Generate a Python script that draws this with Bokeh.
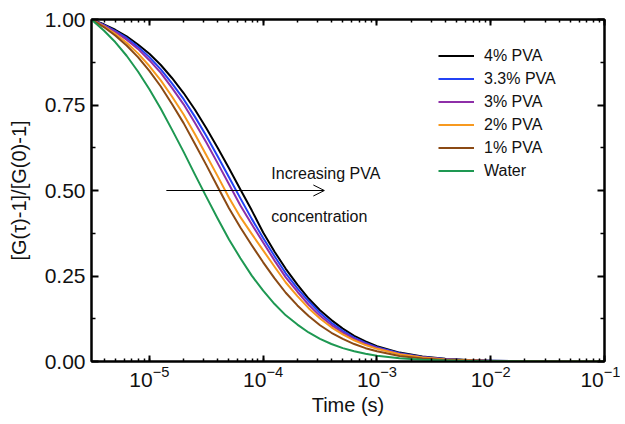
from bokeh.plotting import figure
from bokeh.models import (LogAxis, LinearAxis, FixedTicker, LogTicker, Legend, LegendItem,
                          Arrow, OpenHead, Label, PrintfTickFormatter, Range1d)
from bokeh.embed import file_html
from bokeh.resources import INLINE

# ---- data ----
time_s = [3.1e-6, 3.98e-6, 5.01e-6, 6.31e-6, 7.94e-6, 1.0e-5, 1.26e-5, 1.58e-5, 2.0e-5,
          2.51e-5, 3.16e-5, 3.98e-5, 5.01e-5, 6.31e-5, 7.94e-5, 1.0e-4, 1.26e-4, 1.58e-4,
          2.0e-4, 2.51e-4, 3.16e-4, 3.98e-4, 5.01e-4, 6.31e-4, 7.94e-4, 1.0e-3, 1.58e-3,
          2.51e-3, 3.98e-3, 6.31e-3, 1.0e-2, 3.16e-2, 1.0e-1]

pva_4 = [1.0, 0.986, 0.970, 0.951, 0.927, 0.900, 0.867, 0.829, 0.785, 0.737, 0.683, 0.625,
         0.565, 0.503, 0.442, 0.377, 0.321, 0.271, 0.225, 0.184, 0.150, 0.121, 0.096, 0.075,
         0.059, 0.045, 0.026, 0.015, 0.008, 0.0043, 0.0022, 0.0004, 0.0]
pva_33 = [1.0, 0.984, 0.967, 0.946, 0.920, 0.890, 0.854, 0.813, 0.767, 0.716, 0.660, 0.600,
          0.539, 0.477, 0.417, 0.361, 0.308, 0.258, 0.214, 0.176, 0.142, 0.113, 0.0895, 0.070,
          0.0545, 0.042, 0.024, 0.0133, 0.0071, 0.0039, 0.0020, 0.0003, 0.0]
pva_3 = [1.0, 0.983, 0.964, 0.941, 0.914, 0.881, 0.844, 0.800, 0.752, 0.698, 0.641, 0.580,
         0.518, 0.456, 0.401, 0.348, 0.295, 0.246, 0.204, 0.166, 0.1335, 0.1065, 0.0843, 0.066,
         0.0512, 0.0394, 0.0223, 0.0124, 0.0066, 0.0035, 0.0018, 0.0003, 0.0]
pva_2 = [1.0, 0.980, 0.958, 0.932, 0.901, 0.864, 0.822, 0.775, 0.722, 0.665, 0.604, 0.542,
         0.479, 0.422, 0.373, 0.325, 0.277, 0.231, 0.191, 0.156, 0.1255, 0.100, 0.0792, 0.062,
         0.0481, 0.037, 0.021, 0.0117, 0.0062, 0.0033, 0.0017, 0.0003, 0.0]
pva_1 = [1.0, 0.978, 0.953, 0.924, 0.890, 0.850, 0.804, 0.753, 0.697, 0.637, 0.575, 0.511,
         0.448, 0.392, 0.340, 0.290, 0.243, 0.201, 0.164, 0.133, 0.106, 0.084, 0.066, 0.051,
         0.039, 0.030, 0.016, 0.0085, 0.0045, 0.0024, 0.0012, 0.0002, 0.0]
water = [1.0, 0.968, 0.934, 0.894, 0.848, 0.796, 0.739, 0.678, 0.613, 0.547, 0.482, 0.418,
         0.357, 0.302, 0.251, 0.207, 0.168, 0.135, 0.108, 0.0849, 0.0662, 0.0512, 0.0392,
         0.0298, 0.0224, 0.0167, 0.0095, 0.0052, 0.0028, 0.0014, 0.0007, 0.0001, 0.0]

series_names = ["4% PVA", "3.3% PVA", "3% PVA", "2% PVA", "1% PVA", "Water"]
series_values = [pva_4, pva_33, pva_3, pva_2, pva_1, water]
series_colors = ["#000000", "#2342f5", "#8e2fa8", "#f7991f", "#8b4a14", "#1e9852"]

y_ticks = [0.0, 0.25, 0.5, 0.75, 1.0]
y_minor = [0.125, 0.375, 0.625, 0.875]

arrow_x = [1.41e-5, 3.45e-4]
arrow_y = 0.5
note_x = 1.18e-4
note_lines = ["Increasing PVA", "concentration"]
note_y = [0.55, 0.425]

FONT = "Liberation Sans"

p = figure(width=620, height=423, x_axis_type="log",
           x_range=Range1d(3.1e-6, 0.1), y_range=Range1d(0, 1),
           output_backend="svg", toolbar_location=None,
           min_border_left=91, min_border_right=16, min_border_top=19, min_border_bottom=62)
p.grid.visible = False
p.outline_line_color = "black"
p.outline_line_width = 2
p.background_fill_color = "white"

renderers = []
for name, vals, col in zip(series_names, series_values, series_colors):
    r = p.line(time_s, vals, line_color=col, line_width=2, line_join="round")
    renderers.append((name, r))

# bottom axis
xa = p.xaxis[0]
xa.ticker = LogTicker(num_minor_ticks=10)
xa.axis_label = "Time (s)"
# right/top axes (ticks only)
top = LogAxis(ticker=LogTicker(num_minor_ticks=10))
right = LinearAxis(ticker=FixedTicker(ticks=y_ticks, minor_ticks=y_minor))
p.add_layout(top, "above")
p.add_layout(right, "right")

ya = p.yaxis[0]
ya.ticker = FixedTicker(ticks=y_ticks, minor_ticks=y_minor)
ya.formatter = PrintfTickFormatter(format="%.2f")
ya.axis_label = "[G(τ)-1]/[G(0)-1]"

for ax in [xa, top]:
    ax.major_tick_in = 6
    ax.major_tick_out = 0
    ax.minor_tick_in = 3
    ax.minor_tick_out = 0
for ax in [ya, right]:
    ax.major_tick_in = 7
    ax.major_tick_out = 0
    ax.minor_tick_in = 4
    ax.minor_tick_out = 0
for ax in [xa, top, ya, right]:
    ax.axis_line_width = 2
    ax.axis_line_color = "black"
    ax.major_tick_line_width = 2
    ax.minor_tick_line_width = 1.5
    ax.major_tick_line_color = "black"
    ax.minor_tick_line_color = "black"
    ax.major_label_text_font = FONT
    ax.axis_label_text_font = FONT
    ax.axis_label_text_font_style = "normal"
    ax.axis_label_text_font_size = "20px"
    ax.major_label_text_color = "#111111"
    ax.axis_label_text_color = "#111111"
for ax in [top, right]:
    ax.major_label_text_font_size = "2px"
    ax.major_label_text_alpha = 0
    ax.major_label_standoff = 0
xa.major_label_text_font_size = "21px"
ya.major_label_text_font_size = "21px"
xa.major_label_standoff = 4
ya.major_label_standoff = 6
xa.axis_label_standoff = 4
ya.axis_label_standoff = 12

legend = Legend(items=[LegendItem(label=n, renderers=[r]) for n, r in renderers],
                location=(347, 179), border_line_color=None, background_fill_alpha=0,
                glyph_width=36, glyph_height=23, label_height=23, spacing=0, padding=0,
                margin=0, label_standoff=10, label_text_font_size="16px",
                label_text_font=FONT, label_text_color="#111111")
p.add_layout(legend, "center")

p.add_layout(Arrow(end=OpenHead(size=11, line_width=1, line_color="black"),
                   x_start=arrow_x[0], y_start=arrow_y, x_end=arrow_x[1], y_end=arrow_y,
                   line_width=1, line_color="black"))
for txt, yy in zip(note_lines, note_y):
    p.add_layout(Label(x=note_x, y=yy, text=txt, text_font=FONT, text_font_size="16px",
                       text_baseline="alphabetic", text_color="#111111"))

open("out.html", "w").write(file_html(p, INLINE))
